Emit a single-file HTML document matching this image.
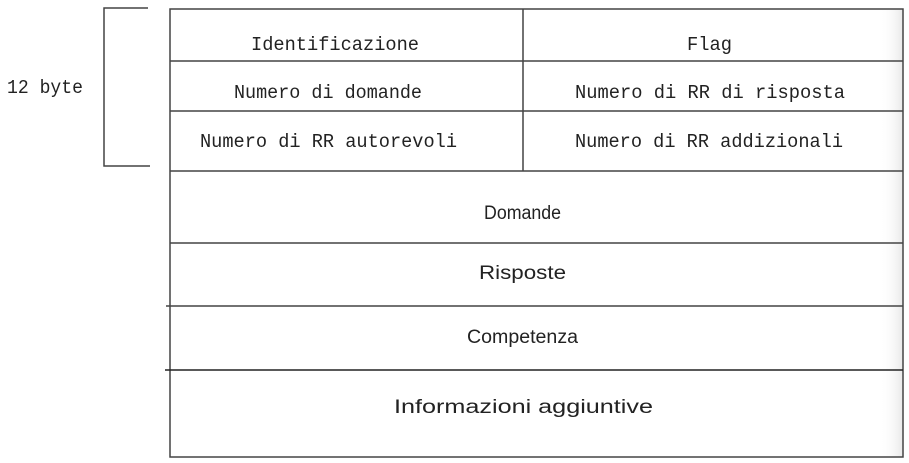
<!DOCTYPE html>
<html><head><meta charset="utf-8"><style>
html,body{margin:0;padding:0;background:#fff;width:909px;height:463px;overflow:hidden}
text{font-family:"Liberation Mono",monospace;font-size:19px;fill:#222}
.s{font-family:"Liberation Sans",sans-serif;font-size:19px}
</style></head><body>
<svg width="909" height="463" viewBox="0 0 909 463" xmlns="http://www.w3.org/2000/svg">
<defs><linearGradient id="g" x1="0" x2="1"><stop offset="0" stop-color="#fff" stop-opacity="0"/><stop offset="1" stop-color="#e8e8e8"/></linearGradient></defs>
<rect x="880" y="9" width="23" height="448" fill="url(#g)"/>
<g stroke="#444" stroke-width="1.5" fill="none">
<rect x="170" y="9" width="733" height="448"/>
<line x1="170" y1="61" x2="903" y2="61"/>
<line x1="170" y1="111" x2="903" y2="111"/>
<line x1="170" y1="171" x2="903" y2="171"/>
<line x1="170" y1="243" x2="903" y2="243"/>
<line x1="166" y1="306" x2="903" y2="306"/>
<line x1="165" y1="370" x2="903" y2="370" stroke="#222"/>
<line x1="523" y1="9" x2="523" y2="171"/>
<polyline points="148,8 104,8 104,166 150,166"/>
</g>
<text x="7" y="93" textLength="76" lengthAdjust="spacingAndGlyphs">12 byte</text>
<text x="251" y="50" textLength="168" lengthAdjust="spacingAndGlyphs">Identificazione</text>
<text x="687" y="50" textLength="45" lengthAdjust="spacingAndGlyphs">Flag</text>
<text x="234" y="98" textLength="188" lengthAdjust="spacingAndGlyphs">Numero di domande</text>
<text x="575" y="98" textLength="270" lengthAdjust="spacingAndGlyphs">Numero di RR di risposta</text>
<text x="200" y="147" textLength="257" lengthAdjust="spacingAndGlyphs">Numero di RR autorevoli</text>
<text x="575" y="147" textLength="268" lengthAdjust="spacingAndGlyphs">Numero di RR addizionali</text>
<text class="s" x="484" y="219" textLength="77" lengthAdjust="spacingAndGlyphs">Domande</text>
<text class="s" x="479" y="279" textLength="87" lengthAdjust="spacingAndGlyphs">Risposte</text>
<text class="s" x="467" y="343" textLength="111" lengthAdjust="spacingAndGlyphs">Competenza</text>
<text class="s" x="394" y="413" textLength="259" lengthAdjust="spacingAndGlyphs">Informazioni aggiuntive</text>
</svg>
</body></html>
